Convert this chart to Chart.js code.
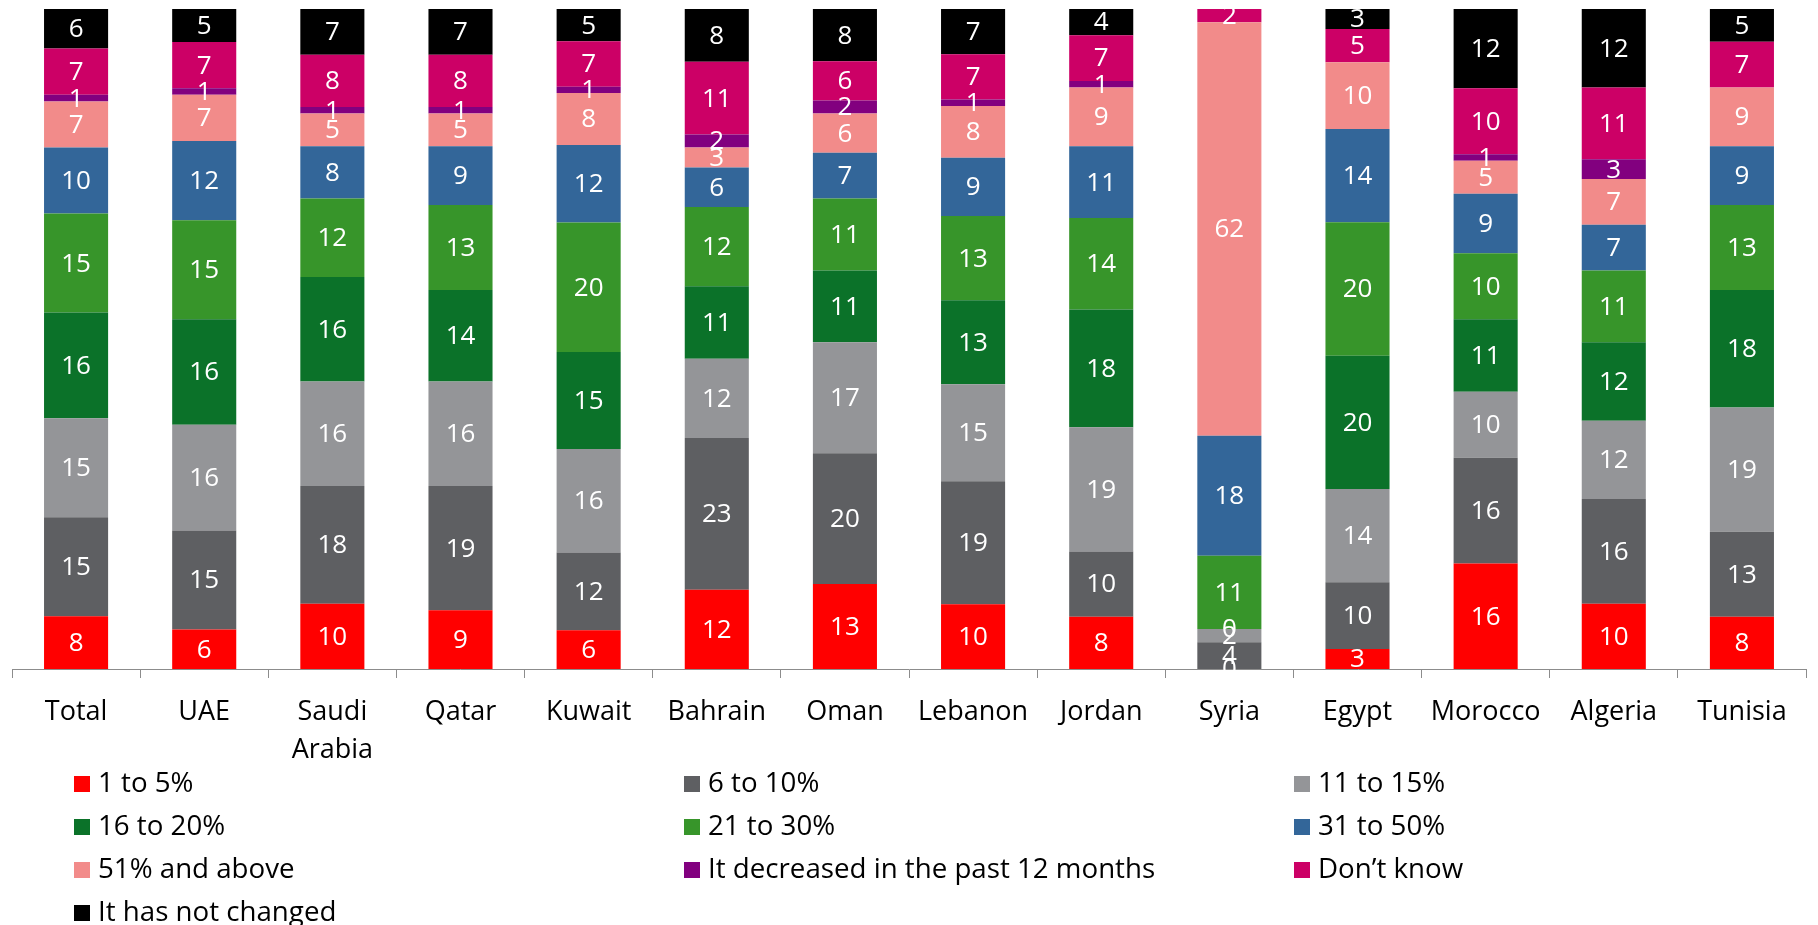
<!DOCTYPE html>
<html>
<head>
<meta charset="utf-8">
<script src="https://cdn.jsdelivr.net/npm/chart.js@4/dist/chart.umd.min.js"></script>
<style>
  html, body { margin: 0; padding: 0; background: #ffffff; }
  #wrap { position: relative; width: 1818px; height: 925px; }
</style>
</head>
<body>
<div id="wrap"><canvas id="shareChart"></canvas></div>
<script>
// categories (x axis)
const countries = ['Total', 'UAE', ['Saudi', 'Arabia'], 'Qatar', 'Kuwait', 'Bahrain', 'Oman',
  'Lebanon', 'Jordan', 'Syria', 'Egypt', 'Morocco', 'Algeria', 'Tunisia'];

// series values, bottom to top of each bar (null = no segment shown)
const share1to5     = [8, 6, 10, 9, 6, 12, 13, 10, 8, 0, 3, 16, 10, 8];
const share6to10    = [15, 15, 18, 19, 12, 23, 20, 19, 10, 4, 10, 16, 16, 13];
const share11to15   = [15, 16, 16, 16, 16, 12, 17, 15, 19, 2, 14, 10, 12, 19];
const share16to20   = [16, 16, 16, 14, 15, 11, 11, 13, 18, 0, 20, 11, 12, 18];
const share21to30   = [15, 15, 12, 13, 20, 12, 11, 13, 14, 11, 20, 10, 11, 13];
const share31to50   = [10, 12, 8, 9, 12, 6, 7, 9, 11, 18, 14, 9, 7, 9];
const share51plus   = [7, 7, 5, 5, 8, 3, 6, 8, 9, 62, 10, 5, 7, 9];
const decreased     = [1, 1, 1, 1, 1, 2, 2, 1, 1, null, null, 1, 3, null];
const dontKnow      = [7, 7, 8, 8, 7, 11, 6, 7, 7, 2, 5, 10, 11, 7];
const notChanged    = [6, 5, 7, 7, 5, 8, 8, 7, 4, null, 3, 12, 12, 5];

const seriesNames = ['1 to 5%', '6 to 10%', '11 to 15%', '16 to 20%', '21 to 30%', '31 to 50%',
  '51% and above', 'It decreased in the past 12 months', 'Don\u2019t know', 'It has not changed'];
const seriesValues = [share1to5, share6to10, share11to15, share16to20, share21to30, share31to50,
  share51plus, decreased, dontKnow, notChanged];
const seriesColors = ['#ff0000', '#5e5f62', '#949598', '#0b7229', '#37952a', '#336699',
  '#f28b8a', '#82007f', '#cc0066', '#000000'];

// 100% stacked: each bar is scaled to its own total
const totals = countries.map((c, i) =>
  seriesValues.reduce((s, arr) => s + (arr[i] || 0), 0));

const datasets = seriesValues.map((arr, k) => ({
  label: seriesNames[k],
  data: arr.map((v, i) => v === null ? null : v * 100 / totals[i]),
  rawValues: arr,
  backgroundColor: seriesColors[k],
  borderWidth: 0,
  barPercentage: 1,
  categoryPercentage: 0.5
}));

const FONT = '"Open Sans", "Noto Sans", sans-serif';

// white numbers in the middle of every segment
const segmentLabels = {
  id: 'segment_labels',
  afterDatasetsDraw(chart) {
    const ctx = chart.ctx;
    ctx.save();
    ctx.fillStyle = '#ffffff';
    ctx.font = '26px ' + FONT;
    ctx.textAlign = 'center';
    ctx.textBaseline = 'middle';
    chart.data.datasets.forEach((ds, d) => {
      chart.getDatasetMeta(d).data.forEach((bar, i) => {
        const v = ds.rawValues[i];
        if (v === null || v === undefined) return;
        ctx.fillText(String(v), bar.x, (bar.y + bar.base) / 2 + 1);
      });
    });
    ctx.restore();
  }
};

// three-column legend under the axis labels
const gridLegend = {
  id: 'grid_legend',
  afterDraw(chart, args, opts) {
    const ctx = chart.ctx;
    ctx.save();
    ctx.font = opts.fontSize + 'px ' + FONT;
    ctx.textBaseline = 'middle';
    ctx.textAlign = 'left';
    chart.data.datasets.forEach((ds, k) => {
      const col = k % 3;
      const row = Math.floor(k / 3);
      const x = opts.left + col * opts.colWidth;
      const y = opts.top + row * opts.rowHeight;
      ctx.fillStyle = ds.backgroundColor;
      ctx.fillRect(x, y - opts.box / 2, opts.box, opts.box);
      ctx.fillStyle = '#000000';
      ctx.fillText(ds.label, x + opts.box + 8, y);
    });
    ctx.restore();
  }
};

new Chart(document.getElementById('shareChart'), {
  type: 'bar',
  data: { labels: countries, datasets: datasets },
  plugins: [segmentLabels, gridLegend],
  options: {
    responsive: true,
    maintainAspectRatio: false,
    animation: false,
    layout: { padding: { left: 12, right: 12, top: 9, bottom: 0 } },
    scales: {
      x: {
        stacked: true,
        grid: {
          display: true,
          offset: true,
          drawOnChartArea: false,
          drawTicks: true,
          tickLength: 9,
          color: '#8c8c8c'
        },
        border: { display: true, color: '#8c8c8c', width: 1 },
        ticks: {
          color: '#000000',
          padding: 15,
          maxRotation: 0,
          autoSkip: false,
          font: { family: FONT, size: 27, lineHeight: 1.42 }
        },
        afterFit(scale) { scale.height = 256; }
      },
      y: {
        stacked: true,
        display: false,
        min: 0,
        max: 100
      }
    },
    plugins: {
      legend: { display: false },
      tooltip: { enabled: false },
      grid_legend: { left: 74, top: 784, colWidth: 610, rowHeight: 43, box: 16, fontSize: 27.7 }
    }
  }
});
</script>
</body>
</html>
